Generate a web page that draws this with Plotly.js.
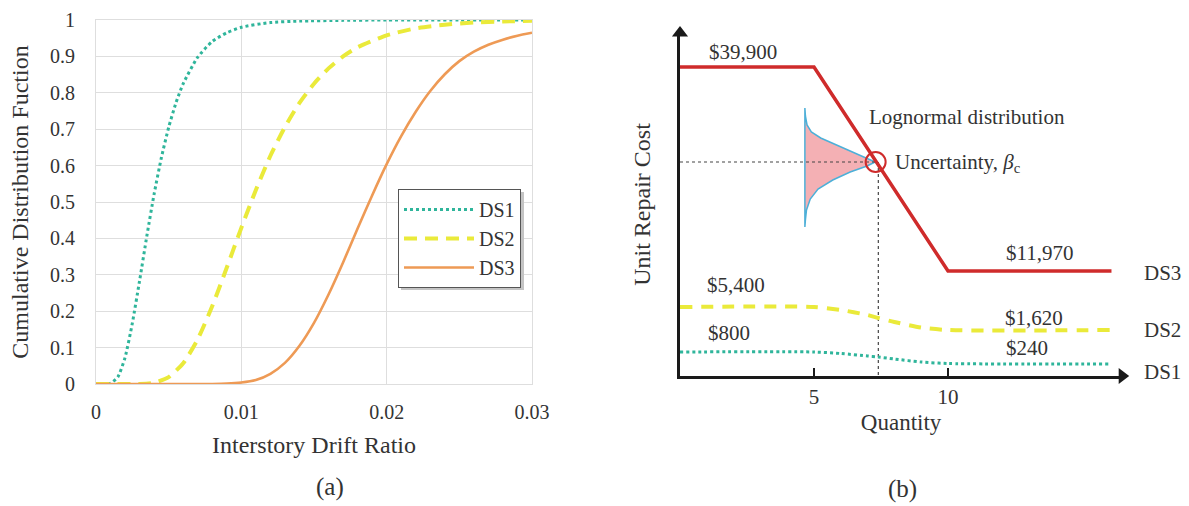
<!DOCTYPE html>
<html>
<head>
<meta charset="utf-8">
<script src="https://cdn.plot.ly/plotly-3.0.1.min.js"></script>
<style>html,body{margin:0;padding:0;background:#fff;}#chart{width:1189px;height:506px;}</style>
</head>
<body>
<div id="chart"></div>
<script>
// ---------- Panel (a): fragility curves ----------
const seriesNames = ['DS1', 'DS2', 'DS3'];
const driftTicks = [0, 0.01, 0.02, 0.03];
const cdfTicks = [0, 0.1, 0.2, 0.3, 0.4, 0.5, 0.6, 0.7, 0.8, 0.9, 1];

const ds1Drift = [0, 0.0005, 0.001, 0.0015, 0.002, 0.0025, 0.003, 0.0035, 0.004, 0.0045, 0.005, 0.0055, 0.006, 0.007, 0.008, 0.009, 0.010, 0.012, 0.014, 0.017, 0.020, 0.025, 0.030];
const ds1Cdf   = [0, 0, 0.002, 0.019, 0.073, 0.167, 0.284, 0.407, 0.522, 0.622, 0.705, 0.772, 0.825, 0.898, 0.941, 0.965, 0.980, 0.993, 0.997, 0.999, 1.0, 1.0, 1.0];

const ds2Drift = [0, 0.003, 0.004, 0.005, 0.006, 0.007, 0.008, 0.009, 0.010, 0.011, 0.012, 0.013, 0.014, 0.015, 0.016, 0.017, 0.018, 0.020, 0.022, 0.024, 0.026, 0.028, 0.030];
const ds2Cdf   = [0, 0.0002, 0.0035, 0.019, 0.057, 0.123, 0.214, 0.320, 0.429, 0.533, 0.627, 0.706, 0.772, 0.825, 0.867, 0.900, 0.925, 0.958, 0.977, 0.987, 0.993, 0.996, 0.998];

const ds3Drift = [0, 0.008, 0.009, 0.010, 0.011, 0.012, 0.013, 0.014, 0.015, 0.016, 0.017, 0.018, 0.019, 0.020, 0.021, 0.022, 0.023, 0.024, 0.025, 0.026, 0.027, 0.028, 0.029, 0.030];
const ds3Cdf   = [0, 0.0001, 0.001, 0.004, 0.011, 0.028, 0.058, 0.105, 0.168, 0.246, 0.334, 0.427, 0.518, 0.604, 0.681, 0.748, 0.805, 0.851, 0.887, 0.913, 0.932, 0.946, 0.957, 0.965];

// ---------- Panel (b): unit repair cost vs quantity (schematic) ----------
const qtyTicks = [5, 10];
const qtyDS3  = [0, 5, 10, 16.1];
const costDS3 = [309, 309, 105, 105];
const qtyDS2  = [0, 5, 6, 7, 7.4, 8, 9, 10, 16.1];
const costDS2 = [69, 69, 66, 61, 58, 54, 48.5, 46, 46];
const qtyDS1  = [0, 5, 6, 7, 7.4, 8, 9, 10, 16.1];
const costDS1 = [24, 24, 22.5, 20, 19, 17, 14, 12.5, 12];

// lognormal distribution sketch (outline around the vertical base line)
const pdfQty  = [4.66, 4.68, 4.74, 4.90, 5.25, 5.75, 6.35, 6.95, 7.28, 6.98, 6.35, 5.70, 5.15, 4.86, 4.72, 4.68, 4.66, 4.66];
const pdfCost = [268, 260, 251, 244, 238, 232, 225, 218, 214, 210, 204, 196, 187, 177, 166, 156, 149, 268];

const medianQty = 7.3;
const medianCost = 214;
const dropQty = 7.4;
const qtyAxisEnd = 16.5;
const costAxisEnd = 343;

const costLabels = [
  {text: '$39,900', q: 2.35, c: 324},
  {text: '$11,970', q: 13.4, c: 123},
  {text: '$5,400',  q: 2.1,  c: 91},
  {text: '$1,620',  q: 13.2, c: 58},
  {text: '$800',    q: 1.83, c: 43},
  {text: '$240',    q: 12.95, c: 28},
  {text: 'Lognormal distribution', q: 10.7, c: 259}
];
const uncertaintyLabel = {text: 'Uncertainty, <i>β</i><sub>c</sub>', q: 7.95, c: 213};
const stateLabels = [
  {text: 'DS3', c: 103},
  {text: 'DS2', c: 46},
  {text: 'DS1', c: 4}
];

const FONT = '"Liberation Serif", "Times New Roman", Times, serif';
const TXT = '#333333';
const cTeal = '#2fb59b';
const cYellow = '#eaea3a';
const cOrange = '#ee9a55';
const cRed = '#cf2b2b';
const AX = '#1a1a1a';

const traces = [
  {x: ds1Drift, y: ds1Cdf, name: seriesNames[0], type: 'scatter', mode: 'lines', xaxis: 'x', yaxis: 'y',
   line: {color: cTeal, width: 3, dash: 'dot', shape: 'spline', smoothing: 0.6}, cliponaxis: false},
  {x: ds2Drift, y: ds2Cdf, name: seriesNames[1], type: 'scatter', mode: 'lines', xaxis: 'x', yaxis: 'y',
   line: {color: cYellow, width: 4, dash: '13px,8px', shape: 'spline', smoothing: 0.6}, cliponaxis: false},
  {x: ds3Drift, y: ds3Cdf, name: seriesNames[2], type: 'scatter', mode: 'lines', xaxis: 'x', yaxis: 'y',
   line: {color: cOrange, width: 2.6, shape: 'spline', smoothing: 0.6}, cliponaxis: false},

  // panel (b)
  {x: pdfQty, y: pdfCost, type: 'scatter', mode: 'lines', xaxis: 'x2', yaxis: 'y2', showlegend: false,
   fill: 'toself', fillcolor: 'rgba(240,150,155,0.75)', line: {color: '#4db0d8', width: 1.5}, hoverinfo: 'skip'},
  {x: [0, medianQty], y: [medianCost, medianCost], type: 'scatter', mode: 'lines', xaxis: 'x2', yaxis: 'y2', showlegend: false,
   line: {color: '#444', width: 1.2, dash: 'dot'}, hoverinfo: 'skip'},
  {x: [dropQty, dropQty], y: [medianCost, 0], type: 'scatter', mode: 'lines', xaxis: 'x2', yaxis: 'y2', showlegend: false,
   line: {color: '#444', width: 1.2, dash: 'dot'}, hoverinfo: 'skip'},
  {x: qtyDS1, y: costDS1, type: 'scatter', mode: 'lines', xaxis: 'x2', yaxis: 'y2', showlegend: false,
   line: {color: cTeal, width: 3, dash: 'dot', shape: 'spline', smoothing: 0.7}, cliponaxis: false},
  {x: qtyDS2, y: costDS2, type: 'scatter', mode: 'lines', xaxis: 'x2', yaxis: 'y2', showlegend: false,
   line: {color: cYellow, width: 4, dash: '12px,9px', shape: 'spline', smoothing: 0.7}, cliponaxis: false},
  {x: qtyDS3, y: costDS3, type: 'scatter', mode: 'lines', xaxis: 'x2', yaxis: 'y2', showlegend: false,
   line: {color: cRed, width: 3.5}, cliponaxis: false},
  {x: [medianQty], y: [medianCost], type: 'scatter', mode: 'markers', xaxis: 'x2', yaxis: 'y2', showlegend: false,
   marker: {symbol: 'circle-open', size: 20, color: cRed, line: {color: cRed, width: 2}}, cliponaxis: false, hoverinfo: 'skip'},
  // arrowheads of the two axes
  {x: [qtyAxisEnd], y: [0], type: 'scatter', mode: 'markers', xaxis: 'x2', yaxis: 'y2', showlegend: false,
   marker: {symbol: 'triangle-right', size: 14, color: AX}, cliponaxis: false, hoverinfo: 'skip'},
  {x: [0], y: [costAxisEnd], type: 'scatter', mode: 'markers', xaxis: 'x2', yaxis: 'y2', showlegend: false,
   marker: {symbol: 'triangle-up', size: 14, color: AX}, cliponaxis: false, hoverinfo: 'skip'}
];

const annotations = costLabels.map(l => ({
  text: l.text, x: l.q, y: l.c, xref: 'x2', yref: 'y2', showarrow: false,
  xanchor: 'center', yanchor: 'middle', font: {family: FONT, size: 21, color: TXT}
}));
annotations.push({text: uncertaintyLabel.text, x: uncertaintyLabel.q, y: uncertaintyLabel.c, xref: 'x2', yref: 'y2',
  showarrow: false, xanchor: 'left', yanchor: 'middle', font: {family: FONT, size: 21, color: TXT}});
stateLabels.forEach(l => annotations.push({
  text: l.text, x: 1142/1189, y: l.c, xref: 'paper', yref: 'y2', showarrow: false,
  xanchor: 'left', yanchor: 'middle', font: {family: FONT, size: 21, color: TXT}
}));
// panel captions
annotations.push({text: '(a)', x: 330/1189, y: 1 - 487/506, xref: 'paper', yref: 'paper', showarrow: false,
  xanchor: 'center', yanchor: 'middle', font: {family: FONT, size: 25, color: TXT}});
annotations.push({text: '(b)', x: 903/1189, y: 1 - 489/506, xref: 'paper', yref: 'paper', showarrow: false,
  xanchor: 'center', yanchor: 'middle', font: {family: FONT, size: 25, color: TXT}});

const gridC = '#dedede';
const layout = {
  width: 1189, height: 506,
  margin: {l: 0, r: 0, t: 0, b: 0},
  paper_bgcolor: '#ffffff', plot_bgcolor: '#ffffff',
  font: {family: FONT, color: TXT},
  showlegend: true,
  legend: {
    x: 398/1189, y: 1 - 189/506, xanchor: 'left', yanchor: 'top',
    bgcolor: '#ffffff', bordercolor: '#555555', borderwidth: 1,
    font: {family: FONT, size: 20, color: TXT}, itemwidth: 70, tracegroupgap: 0
  },
  xaxis: {
    domain: [96/1189, 532/1189], range: [0, 0.03], tickvals: driftTicks,
    showgrid: true, gridcolor: gridC, gridwidth: 1, zeroline: false,
    showline: true, linecolor: gridC, linewidth: 1, mirror: true, ticks: '',
    tickfont: {family: FONT, size: 20, color: TXT}, ticklabelstandoff: 10,
    title: {text: 'Interstory Drift Ratio', font: {family: FONT, size: 24, color: TXT}, standoff: 14},
    anchor: 'y', fixedrange: true
  },
  yaxis: {
    domain: [1 - 384/506, 1 - 20/506], range: [0, 1], tickvals: cdfTicks,
    showgrid: true, gridcolor: gridC, gridwidth: 1, zeroline: false,
    showline: true, linecolor: gridC, linewidth: 1, mirror: true, ticks: '',
    tickfont: {family: FONT, size: 20, color: TXT}, ticklabelstandoff: 16,
    title: {text: 'Cumulative Distribution Fuction', font: {family: FONT, size: 24, color: TXT}, standoff: 14},
    anchor: 'x', fixedrange: true
  },
  xaxis2: {
    domain: [680/1189, (680 + 16.5 * 26.8)/1189], range: [0, qtyAxisEnd], tickvals: qtyTicks,
    showgrid: false, zeroline: false, showline: true, linecolor: AX, linewidth: 3,
    ticks: 'inside', ticklen: 8, tickwidth: 2, tickcolor: AX,
    tickfont: {family: FONT, size: 21, color: TXT}, ticklabelstandoff: 0,
    title: {text: 'Quantity', font: {family: FONT, size: 23, color: TXT}, standoff: 6},
    anchor: 'y2', fixedrange: true
  },
  yaxis2: {
    domain: [1 - 376/506, 1 - (376 - costAxisEnd)/506], range: [0, costAxisEnd],
    showgrid: false, zeroline: false, showline: true, linecolor: AX, linewidth: 3,
    showticklabels: false, ticks: '',
    title: {text: 'Unit Repair Cost', font: {family: FONT, size: 24, color: TXT}, standoff: 20},
    anchor: 'x2', fixedrange: true
  },
  shapes: [
    {type: 'rect', xref: 'paper', yref: 'paper', x0: 401/1189, x1: 524/1189, y0: 1 - 290/506, y1: 1 - 192/506,
     fillcolor: '#c4c4c4', line: {width: 0}, layer: 'above'}
  ],
  annotations: annotations
};

Plotly.newPlot('chart', traces, layout, {displayModeBar: false, staticPlot: true});
</script>
</body>
</html>
